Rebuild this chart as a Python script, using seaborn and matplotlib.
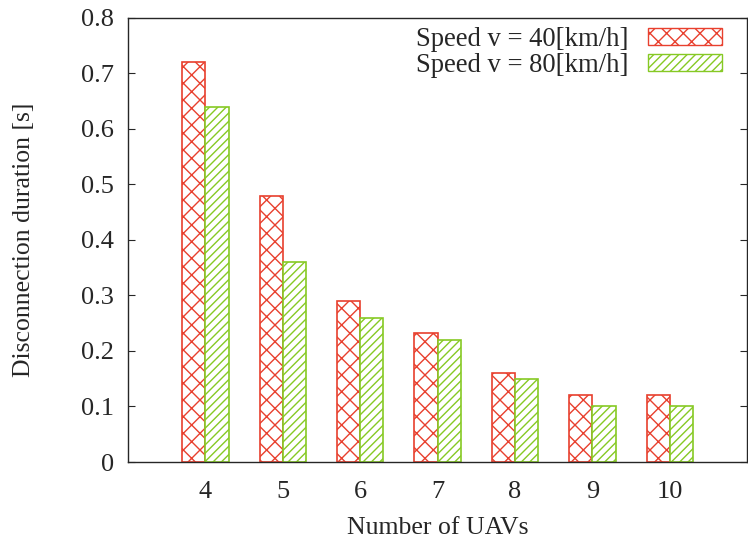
import matplotlib
matplotlib.use('Agg')
import matplotlib.pyplot as plt
import seaborn as sns
import pandas as pd

uavs = [4, 5, 6, 7, 8, 9, 10]
speed40 = [0.72, 0.48, 0.29, 0.233, 0.16, 0.12, 0.12]
speed80 = [0.64, 0.36, 0.26, 0.22, 0.15, 0.10, 0.10]
labels = ['Speed v = 40[km/h]', 'Speed v = 80[km/h]']

RED = '#e8402e'
GREEN = '#86c924'

sns.set_style('ticks')
plt.rcParams['font.family'] = ['Liberation Serif', 'DejaVu Serif']
plt.rcParams['hatch.linewidth'] = 1.0

df = pd.DataFrame({
    'uav': [str(u) for u in uavs] * 2,
    'dur': speed40 + speed80,
    'speed': [labels[0]] * len(uavs) + [labels[1]] * len(uavs),
})

fig = plt.figure(figsize=(7.48, 5.41), dpi=100)
ax = fig.add_axes([0.171, 0.146, 0.828, 0.821])

sns.barplot(data=df, x='uav', y='dur', hue='speed', ax=ax, width=0.6,
            palette=['white', 'white'], saturation=1, legend=True)

hatches = ['xx', '////']
cols = [RED, GREEN]
for i, cont in enumerate(ax.containers):
    for bar in cont:
        bar.set_edgecolor(cols[i])
        bar.set_hatch(hatches[i])
        bar.set_linewidth(1.2)

handles, _ = ax.get_legend_handles_labels()
for h, c, hs in zip(handles, cols, hatches):
    h.set_edgecolor(c)
    h.set_facecolor('white')
    h.set_hatch(hs)
ax.legend(handles, labels, loc='upper right', frameon=False, markerfirst=False,
          fontsize=19.2, handlelength=2.77, handleheight=0.6, labelspacing=0.05,
          borderaxespad=0, borderpad=0, handletextpad=0.75,
          bbox_to_anchor=(722 / 748, (541 - 27) / 541),
          bbox_transform=fig.transFigure)

ax.set_xlim(-1, 7)
ax.set_ylim(0, 0.8)
ax.set_yticks([0, 0.1, 0.2, 0.3, 0.4, 0.5, 0.6, 0.7, 0.8])
ax.set_yticklabels(['0', '0.1', '0.2', '0.3', '0.4', '0.5', '0.6', '0.7', '0.8'])
ax.set_xlabel('Number of UAVs', fontsize=18.5, labelpad=10)
ax.set_ylabel('Disconnection duration [s]', fontsize=18.5, labelpad=33)
ax.tick_params(direction='in', top=True, right=True, length=5, labelsize=19)
ax.tick_params(axis='y', pad=10)
ax.tick_params(axis='x', top=False, pad=14)
for s in ax.spines.values():
    s.set_visible(True)
    s.set_linewidth(1.0)

fig.savefig('out.png', dpi=100)
